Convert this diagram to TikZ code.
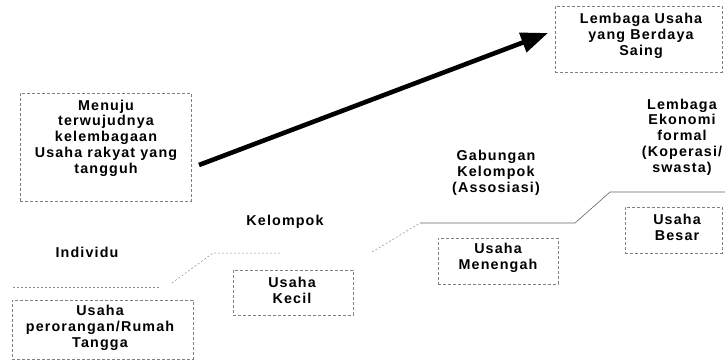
\documentclass[tikz,border=0pt]{standalone}
\usepackage{fontspec}
\newfontfamily\lab{Liberation Sans}[LetterSpace=8]
\usetikzlibrary{arrows.meta,fit}
\tikzset{
  txt/.style={font=\lab\bfseries\fontsize{14.3}{15.8}\selectfont, align=center, inner sep=0pt, text=black},
  box/.style={draw=black!50, densely dashed, line width=0.5pt, inner sep=0pt},
  stair/.style={draw=black!60, line width=0.6pt},
  stairfaint/.style={draw=black!45, line width=0.5pt, dash pattern=on 2pt off 2pt},
  bigarrow/.style={line width=4.6pt, -{Triangle[length=27pt,width=20pt]}}
}
\begin{document}
\begin{tikzpicture}[x=1pt,y=-1pt]
\useasboundingbox (0,0) rectangle (725,362);
% boxes
\node[box, fit={(20,93) (191,201)}] (b1) {};
\node[txt] (t1) at (106,138) {Menuju\\terwujudnya\\kelembagaan\\Usaha rakyat yang\\tangguh};
\node[box, fit={(555,6) (722,72)}] (b2) {};
\node[txt] (t2) at (641,36) {Lembaga Usaha\\yang Berdaya\\Saing};
\node[box, fit={(12,300) (193,359)}] (b3) {};
\node[txt] (t3) at (100,328) {Usaha\\perorangan/Rumah\\Tangga};
\node[box, fit={(233,270) (353,315)}] (b4) {};
\node[txt] (t4) at (292,290) {Usaha\\Kecil};
\node[box, fit={(438,238) (558,284)}] (b5) {};
\node[txt] (t5) at (498,258) {Usaha\\Menengah};
\node[box, fit={(625,207) (722,253)}] (b6) {};
\node[txt] (t6) at (677,227) {Usaha\\Besar};
% free labels
\node[txt] (l1) at (87,252) {Individu};
\node[txt] (l2) at (285,222) {Kelompok};
\node[txt] (l3) at (496,173) {Gabungan\\Kelompok\\(Assosiasi)};
\node[txt] (l4) at (682,137) {Lembaga\\Ekonomi\\formal\\(Koperasi/\\swasta)};
% staircase
\coordinate (s0) at (13,287);
\coordinate (s1) at (160,287);
\coordinate (s2) at (172,283);
\coordinate (s3) at (213,253);
\coordinate (s4) at (280,253);
\coordinate (s5) at (372,252);
\coordinate (s6) at (420,223);
\coordinate (s7) at (575,223);
\coordinate (s8) at (610,192);
\coordinate (s9) at (725,192);
\draw[stairfaint] (s0) -- (s1);
\draw[stairfaint] (s2) -- (s3) -- (s4);
\draw[stairfaint] (s5) -- (s6);
\draw[stair] (s6) -- (s7) -- (s8) -- (s9);
% arrow
\coordinate (a1) at (199,165);
\coordinate (a2) at (548,33);
\draw[bigarrow] (a1) -- (a2);
\end{tikzpicture}
\end{document}
